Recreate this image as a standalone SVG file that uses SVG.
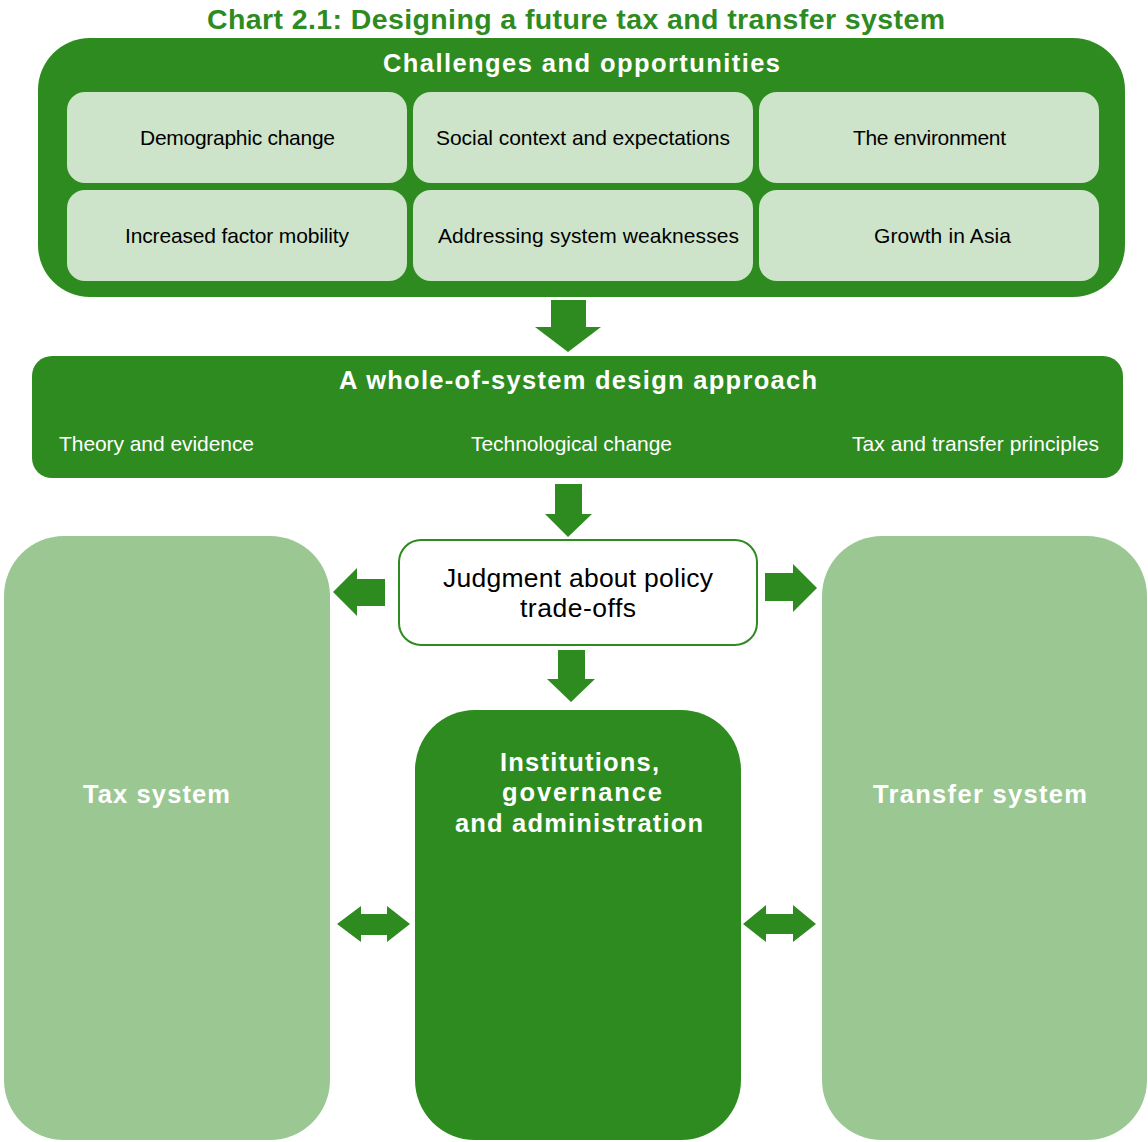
<svg xmlns="http://www.w3.org/2000/svg" width="1148" height="1142" viewBox="0 0 1148 1142">
<style>
.dk{fill:#2E8B1F}
.cell{fill:#CEE4CA}
.side{fill:#9BC793}
.arr{fill:#2E8B1F}
text{font-family:"Liberation Sans",Arial,sans-serif}
.title{font-size:28.5px;font-weight:bold;fill:#2E8B1F}
.hd{font-size:25.5px;font-weight:bold;fill:#fff}
.ct{font-size:21px;fill:#000}
.sub{font-size:21px;fill:#fff}
.jd{font-size:26.5px;fill:#000}
</style>
<rect width="1148" height="1142" fill="#fff"/>
<text class="title" x="207" y="29" textLength="738">Chart 2.1: Designing a future tax and transfer system</text>

<g id="challenges">
<rect class="dk" x="38" y="38" width="1087" height="259" rx="52"/>
<text class="hd" x="383" y="72" textLength="397">Challenges and opportunities</text>
</g>
<g id="demographic"><rect class="cell" x="67" y="92" width="340" height="91" rx="18"/><text class="ct" x="140" y="145" textLength="195">Demographic change</text></g>
<g id="social"><rect class="cell" x="413" y="92" width="340" height="91" rx="18"/><text class="ct" x="436" y="145" textLength="294">Social context and expectations</text></g>
<g id="environment"><rect class="cell" x="759" y="92" width="340" height="91" rx="18"/><text class="ct" x="853" y="145" textLength="153">The environment</text></g>
<g id="mobility"><rect class="cell" x="67" y="190" width="340" height="91" rx="18"/><text class="ct" x="125" y="243" textLength="224">Increased factor mobility</text></g>
<g id="weaknesses"><rect class="cell" x="413" y="190" width="340" height="91" rx="18"/><text class="ct" x="438" y="243" textLength="301">Addressing system weaknesses</text></g>
<g id="asia"><rect class="cell" x="759" y="190" width="340" height="91" rx="18"/><text class="ct" x="874" y="243" textLength="137">Growth in Asia</text></g>

<g id="approach">
<rect class="dk" x="32" y="356" width="1091" height="122" rx="20"/>
<text class="hd" x="339" y="389" textLength="478">A whole-of-system design approach</text>
<text class="sub" x="59" y="451" textLength="195">Theory and evidence</text>
<text class="sub" x="471" y="451" textLength="201">Technological change</text>
<text class="sub" x="852" y="451" textLength="247">Tax and transfer principles</text>
</g>

<g id="judgment">
<rect x="399" y="540" width="358" height="105" rx="22" fill="#fff" stroke="#2E8B1F" stroke-width="2"/>
<text class="jd" x="443" y="587" textLength="270">Judgment about policy</text>
<text class="jd" x="520" y="617" textLength="116">trade-offs</text>
</g>

<g id="tax">
<rect class="side" x="4" y="536" width="326" height="604" rx="60"/>
<text class="hd" x="83" y="803" textLength="147">Tax system</text>
</g>
<g id="transfer">
<rect class="side" x="822" y="536" width="325" height="604" rx="60"/>
<text class="hd" x="873" y="803" textLength="214">Transfer system</text>
</g>
<g id="institutions">
<rect class="dk" x="415" y="710" width="326" height="430" rx="60"/>
<text class="hd" x="500" y="771" textLength="159">Institutions,</text>
<text class="hd" x="502" y="801" textLength="160">governance</text>
<text class="hd" x="455" y="832" textLength="248">and administration</text>
</g>

<g id="connectors">
<polygon class="arr" points="551,300 586,300 586,327 601,327 568,352 535,327 551,327"/>
<polygon class="arr" points="555,484 582,484 582,514 592,514 568,537 545,514 555,514"/>
<polygon class="arr" points="558,650 585,650 585,679 595,679 571,702 547,679 558,679"/>
<polygon class="arr" points="385,579 357,579 357,568 333,592 357,616 357,606 385,606"/>
<polygon class="arr" points="765,573 793,573 793,564 817,588 793,612 793,601 765,601"/>
<polygon class="arr" points="337,924 361,906 361,914 387,914 387,906 410,924 387,942 387,935 361,935 361,942"/>
<polygon class="arr" points="743,924 766,905 766,914 793,914 793,905 816,924 793,942 793,934 766,934 766,942"/>
</g>
</svg>
